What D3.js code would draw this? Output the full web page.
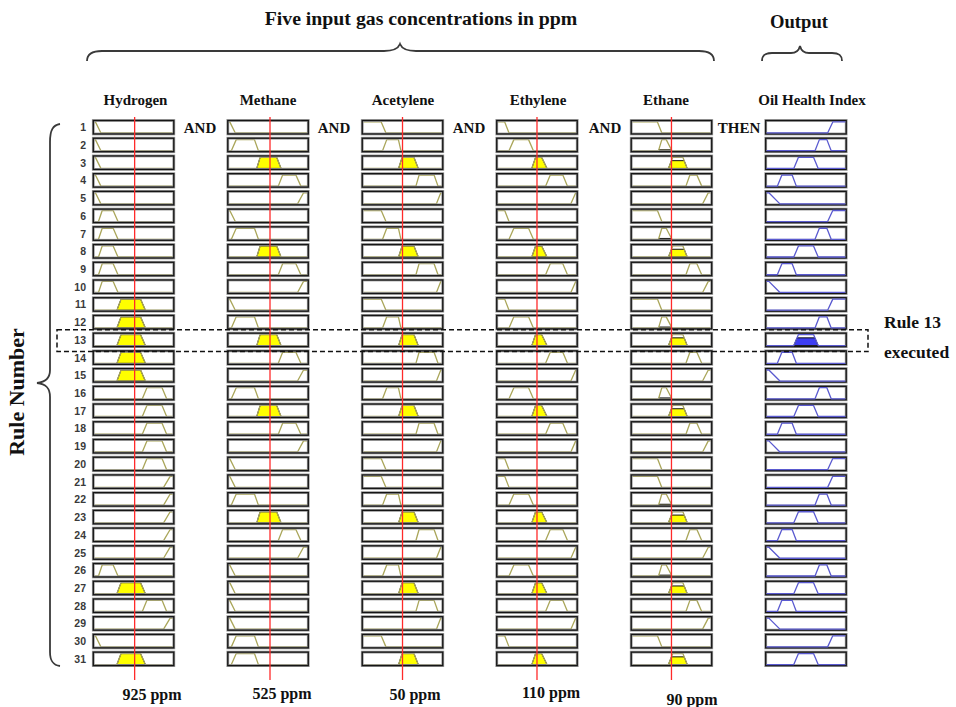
<!DOCTYPE html>
<html>
<head>
<meta charset="utf-8">
<script src="https://cdn.jsdelivr.net/npm/d3@7"></script>
<style>
  body { margin: 0; background: #fff; }
  text { font-family: "Liberation Serif", "Times New Roman", serif; font-weight: bold; fill: #111; }
  .rownum { font-family: "Liberation Sans", Arial, sans-serif; font-size: 10.5px; fill: #3a3a3a; }
</style>
</head>
<body>
<svg id="chart" width="956" height="707"></svg>
<script>
// ---- Fuzzy inference system: five gas inputs, one output ----
const inputNames   = ["Hydrogen", "Methane", "Acetylene", "Ethylene", "Ethane"];
const inputValues  = [925, 525, 50, 110, 90];            // crisp inputs, ppm
const valueLabels  = ["925 ppm", "525 ppm", "50 ppm", "110 ppm", "90 ppm"];
const inputDomains = [[0, 1800], [0, 1000], [0, 100], [0, 220], [0, 180]];
const outputName   = "Oil Health Index";
const outputDomain = [0, 1];

// trapezoidal membership functions [a, b, c, d], five per variable
const hydrogenMF  = [[0, 0, 30, 155], [100, 185, 435, 545], [520, 615, 1060, 1170], [1100, 1205, 1550, 1655], [1585, 1735, 1800, 1800]];
const methaneMF   = [[0, 0, 15, 85], [35, 97, 328, 378], [357, 400, 610, 665], [630, 685, 853, 916], [874, 950, 1000, 1000]];
const acetyleneMF = [[0, 0, 23, 29], [24.7, 30, 44.8, 48], [45, 49.5, 64.5, 70], [67, 71, 90, 95], [93, 98.5, 100, 100]];
const ethyleneMF  = [[0, 0, 20, 32], [32, 45.5, 86.5, 100], [95.5, 106, 123, 138], [134, 147, 182, 195], [204.5, 218, 220, 220]];
const ethaneMF    = [[0, 0, 58, 68], [60.5, 68, 78, 91], [83, 93, 116, 126], [123, 132, 148, 159], [161, 174, 180, 180]];
const outputMF    = [[0, 0, 0.03, 0.17], [0.1375, 0.195, 0.325, 0.378], [0.346, 0.405, 0.596, 0.655], [0.615, 0.67, 0.765, 0.82], [0.775, 0.84, 1, 1]];

// rule base: membership function index (1..5) used by each rule
const ruleNumbers   = d3.range(1, 32);
const hydrogenRule  = [1,1,1,1,1, 2,2,2,2,2, 3,3,3,3,3, 4,4,4,4,4, 5,5,5,5,5, 2,3,4,5,1,3];
const methaneRule   = [1,2,3,4,5, 1,2,3,4,5, 1,2,3,4,5, 2,3,4,5,1, 1,2,3,4,5, 1,1,1,1,2,2];
const acetyleneRule = [1,2,3,4,5, 1,2,3,4,5, 1,2,3,4,5, 2,3,4,5,1, 1,2,3,4,5, 2,3,4,5,1,3];
const ethyleneRule  = [1,2,3,4,5, 1,2,3,4,5, 1,2,3,4,5, 2,3,4,5,1, 1,2,3,4,5, 2,3,4,5,1,3];
const ethaneRule    = [1,2,3,4,5, 1,2,3,4,5, 1,2,3,4,5, 2,3,4,5,1, 1,2,3,4,5, 2,3,4,5,1,3];
const outputRule    = [5,4,3,2,1, 5,4,3,2,1, 5,4,3,2,1, 4,3,2,1,5, 5,4,3,2,1, 4,3,2,1,5,3];
const executedRule  = 13;

const inputMFs   = [hydrogenMF, methaneMF, acetyleneMF, ethyleneMF, ethaneMF];
const inputRules = [hydrogenRule, methaneRule, acetyleneRule, ethyleneRule, ethaneRule];

// ---- helpers ----
function trapmf(x, [a, b, c, d]) {
  if (x >= b && x <= c) return 1;
  if (x <= a || x >= d) return 0;
  return x < b ? (x - a) / (b - a) : (d - x) / (d - c);
}

const svg = d3.select("#chart");

const colLeft  = d3.scaleLinear().domain([0, 5]).range([93.3, 765.7]);
const boxWidth = 80.5;
const rowBand  = d3.scaleBand().domain(ruleNumbers).range([120.5, 665.6]).paddingInner(0.24);
const boxH     = rowBand.bandwidth();

function degreeScale(rule) {
  const top = rowBand(rule);
  return d3.scaleLinear().domain([0, 1]).range([top + boxH - 1.0, top + 1.4]);
}

// membership degree of every input for every rule
const degrees = inputMFs.map((mfs, i) =>
  ruleNumbers.map((r, k) => trapmf(inputValues[i], mfs[inputRules[i][k] - 1])));
const firing = ruleNumbers.map((r, k) => d3.min(degrees, d => d[k]));

function drawColumn(col, domain, mfs, ruleMF, lineColor, fillColor, strengthOf, boxFirst) {
  const x = d3.scaleLinear().domain(domain).range([colLeft(col) + 0.8, colLeft(col) + boxWidth - 0.8]);
  const g = svg.append("g");

  ruleNumbers.forEach((r, k) => {
    const y = degreeScale(r);
    const mf = mfs[ruleMF[k] - 1];
    const [a, b, c, d] = mf;
    const row = g.append("g");

    const drawBox = () => {
      row.append("rect")
        .attr("x", colLeft(col)).attr("y", rowBand(r))
        .attr("width", boxWidth).attr("height", boxH)
        .attr("fill", "none").attr("stroke", "#9a9a9a").attr("stroke-width", 2.8);
      row.append("rect")
        .attr("x", colLeft(col)).attr("y", rowBand(r))
        .attr("width", boxWidth).attr("height", boxH)
        .attr("fill", "none").attr("stroke", "#151515").attr("stroke-width", 1.3);
    };

    row.append("rect")
      .attr("x", colLeft(col)).attr("y", rowBand(r))
      .attr("width", boxWidth).attr("height", boxH).attr("fill", "#fff");

    if (boxFirst) drawBox();

    // clipped membership area
    const h = strengthOf(k);
    if (h > 0) {
      const pts = [[a, 0], [a + h * (b - a), h], [d - h * (d - c), h], [d, 0]];
      row.append("path")
        .attr("d", d3.line().x(p => x(p[0])).y(p => y(p[1]))(pts) + "Z")
        .attr("fill", fillColor).attr("stroke", "#111").attr("stroke-width", 1);
    }

    // membership function outline
    const curve = [[domain[0], trapmf(domain[0], mf)], [a, trapmf(a, mf)], [b, 1], [c, 1],
                   [d, trapmf(d, mf)], [domain[1], trapmf(domain[1], mf)]];
    row.append("path")
      .attr("d", d3.line().x(p => x(p[0])).y(p => y(p[1]))(curve))
      .attr("fill", "none").attr("stroke", lineColor).attr("stroke-width", 1.3)
      .attr("stroke-linejoin", "round");

    if (!boxFirst) drawBox();
  });
  return x;
}

// input columns
const inputScales = inputNames.map((name, i) =>
  drawColumn(i, inputDomains[i], inputMFs[i], inputRules[i], "#aaa65a", "#ffff00", k => degrees[i][k], false));

// output column
drawColumn(5, outputDomain, outputMF, outputRule, "#5a5ad0", "#3d3df2", k => firing[k], true);

// crisp input lines
inputScales.forEach((x, i) => {
  svg.append("line")
    .attr("x1", x(inputValues[i])).attr("x2", x(inputValues[i]))
    .attr("y1", 117).attr("y2", 680)
    .attr("stroke", "#ff2a2a").attr("stroke-width", 1.3);
});

// rule numbers
svg.append("g").selectAll("text").data(ruleNumbers).join("text")
  .attr("class", "rownum")
  .attr("x", 86).attr("y", r => rowBand(r) + boxH / 2 + 4)
  .attr("text-anchor", "end").text(r => r);

// column headings
const headX = [135.5, 268, 403, 538, 666, 812];
inputNames.concat([outputName]).forEach((name, i) => {
  svg.append("text").attr("x", headX[i]).attr("y", 105)
    .attr("text-anchor", "middle").attr("font-size", 15).text(name);
});

// connectives
const connX = [200, 334, 469, 605, 739];
["AND", "AND", "AND", "AND", "THEN"].forEach((w, i) => {
  svg.append("text").attr("x", connX[i]).attr("y", 133)
    .attr("text-anchor", "middle").attr("font-size", 15).text(w);
});

// crisp value labels
const labelX = [152, 282, 415, 551, 692];
const labelY = [700, 699, 700, 698, 705];
valueLabels.forEach((t, i) => {
  svg.append("text").attr("x", labelX[i]).attr("y", labelY[i])
    .attr("text-anchor", "middle").attr("font-size", 16).text(t);
});

// titles
svg.append("text").attr("x", 421).attr("y", 25).attr("text-anchor", "middle")
  .attr("font-size", 19.8).text("Five input gas concentrations in ppm");
svg.append("text").attr("x", 799).attr("y", 28).attr("text-anchor", "middle")
  .attr("font-size", 18.6).text("Output");
svg.append("text").attr("transform", "translate(24,392) rotate(-90)")
  .attr("text-anchor", "middle").attr("font-size", 22).text("Rule Number");

// braces
const braceStyle = s => s.attr("fill", "none").attr("stroke", "#3a3a3a").attr("stroke-width", 1.8);
svg.append("path").call(braceStyle)
  .attr("d", "M87,61 C87,54 92,51 102,51 L384,51 C393,51 398,49 400,44 C402,49 407,51 416,51 L699,51 C709,51 714,54 714,61");
svg.append("path").call(braceStyle)
  .attr("d", "M762,61 C762,55 765,53 772,53 L791,53 C797,53 799,50 800,46 C801,50 803,53 809,53 L832,53 C839,53 842,55 842,61");
svg.append("path").call(braceStyle)
  .attr("d", "M60,124 C53,125 50,130 50,142 L50,370 C50,378 46,382 37,383 C46,384 50,388 50,397 L50,652 C50,661 53,665 60,666");

// highlight of the executed rule
const hlTop = rowBand(executedRule) - 3.5;
svg.append("rect")
  .attr("x", 57).attr("y", hlTop).attr("width", 811).attr("height", boxH + 8.5)
  .attr("fill", "none").attr("stroke", "#111").attr("stroke-width", 1.5)
  .attr("stroke-dasharray", "5,3");
svg.append("text").attr("x", 884).attr("y", 328).attr("font-size", 17.5).text("Rule " + executedRule);
svg.append("text").attr("x", 884).attr("y", 358).attr("font-size", 17.5).text("executed");
</script>
</body>
</html>
